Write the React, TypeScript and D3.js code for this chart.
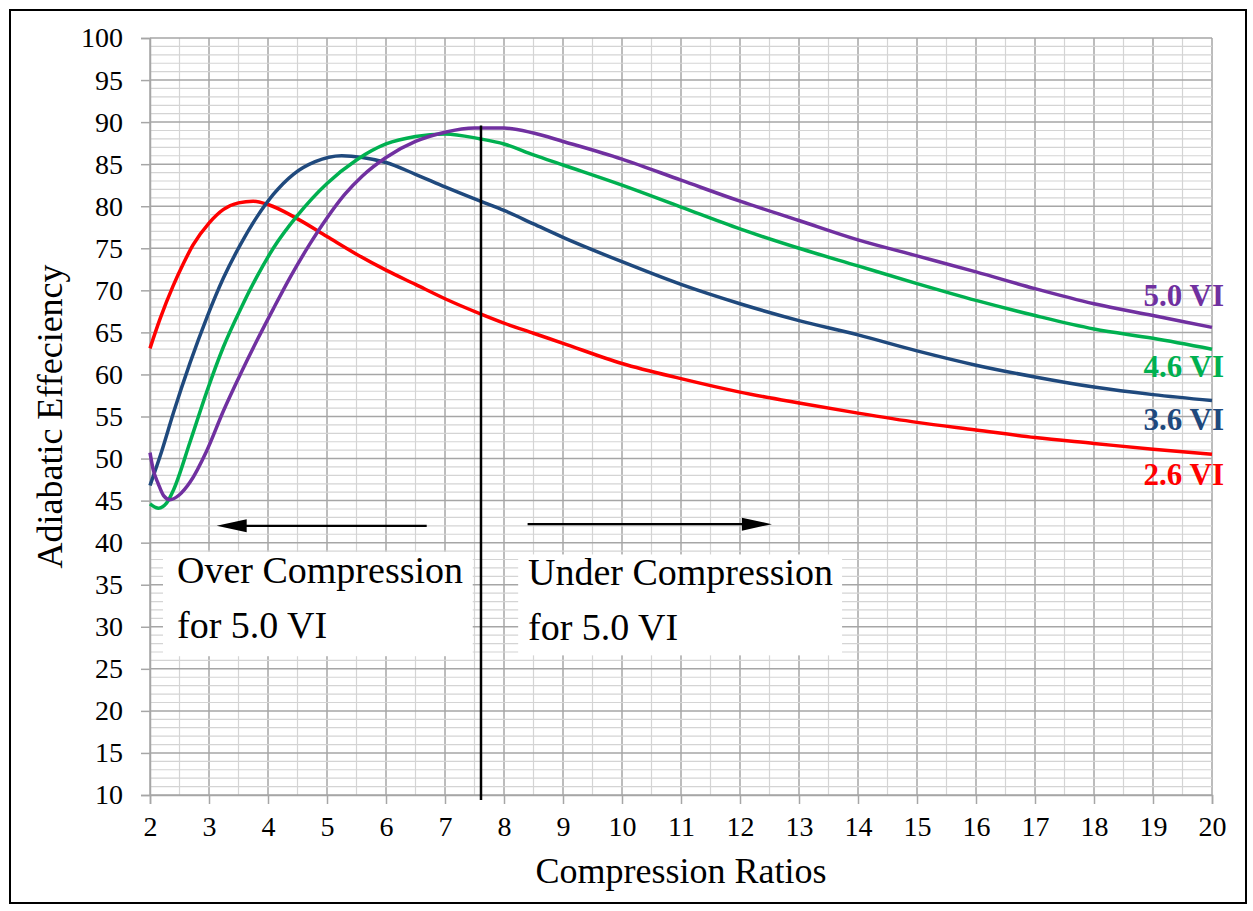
import React, { useEffect, useRef } from 'react';
import * as d3 from 'd3';

// compression ratio values, one list per curve
const redX = [2, 2.17, 2.39, 2.56, 2.73, 3, 3.24, 3.5, 3.75, 4, 4.5, 5, 5.5, 6, 6.5, 7, 7.6, 8, 8.5, 9, 10, 11, 12, 13, 14, 15, 16, 17, 18, 19, 20];
const redY = [63.1, 66.6, 70.5, 73.1, 75.4, 78.0, 79.6, 80.4, 80.6, 80.2, 78.5, 76.4, 74.3, 72.4, 70.7, 69.0, 67.2, 66.1, 64.9, 63.7, 61.3, 59.5, 57.9, 56.6, 55.4, 54.3, 53.4, 52.5, 51.8, 51.1, 50.5];

const blueX = [2, 2.2, 2.4, 2.68, 2.96, 3.24, 3.53, 3.81, 4.09, 4.43, 4.8, 5.25, 5.6, 6, 6.5, 7, 7.6, 8, 8.5, 9, 10, 11, 12, 13, 14, 15, 16, 17, 18, 19, 20];
const blueY = [46.8, 50.9, 55.5, 61.4, 66.7, 71.4, 75.4, 78.7, 81.4, 83.8, 85.3, 86.0, 85.8, 85.2, 83.8, 82.3, 80.6, 79.5, 77.9, 76.3, 73.4, 70.7, 68.4, 66.4, 64.7, 62.8, 61.1, 59.7, 58.5, 57.6, 56.9];

const greenX = [2, 2.14, 2.28, 2.4, 2.68, 2.96, 3.24, 3.53, 3.81, 4.09, 4.5, 5, 5.5, 6, 6.5, 7, 7.6, 8, 8.5, 9, 10, 11, 12, 13, 14, 15, 16, 17, 18, 19, 20];
const greenY = [44.6, 44.1, 44.7, 46.3, 52.0, 57.9, 63.2, 67.7, 71.6, 75.0, 78.9, 82.7, 85.5, 87.4, 88.3, 88.6, 88.0, 87.4, 86.1, 84.9, 82.5, 79.9, 77.3, 75.0, 72.9, 70.8, 68.8, 67.0, 65.4, 64.3, 63.0];

const purpleX = [2, 2.05, 2.14, 2.23, 2.34, 2.5, 2.68, 2.96, 3.24, 3.53, 3.81, 4.09, 4.38, 4.7, 5, 5.3, 5.6, 6, 6.5, 7, 7.5, 8, 8.5, 9, 10, 11, 12, 13, 14, 15, 16, 17, 18, 19, 20];
const purpleY = [50.7, 48.8, 47.0, 45.6, 45.1, 45.7, 47.2, 50.9, 55.6, 60.0, 64.0, 67.8, 71.6, 75.4, 78.6, 81.4, 83.6, 85.8, 87.7, 88.8, 89.3, 89.3, 88.7, 87.7, 85.6, 83.1, 80.6, 78.3, 76.0, 74.1, 72.2, 70.2, 68.4, 67.0, 65.6];

const seriesNames = ['2.6 VI', '3.6 VI', '4.6 VI', '5.0 VI'];
const seriesColors = ['#ff0000', '#1f497d', '#00b050', '#7030a0'];

const xTicks = d3.range(2, 21, 1);
const yTicks = d3.range(10, 101, 5);

const W = 1253, H = 911;

export default function App() {
  const ref = useRef<SVGSVGElement>(null);

  useEffect(() => {
    const svg = d3.select(ref.current);
    svg.selectAll('*').remove();

    const x = d3.scaleLinear().domain([2, 20]).range([150, 1212]);
    const y = d3.scaleLinear().domain([10, 100]).range([795, 38]);
    const font = '"Liberation Serif", "Times New Roman", serif';

    svg.append('rect').attr('width', W).attr('height', H).attr('fill', '#fff');
    // outer frame
    svg.append('rect')
      .attr('x', 10).attr('y', 10).attr('width', 1236).attr('height', 893)
      .attr('fill', 'none').attr('stroke', '#000').attr('stroke-width', 2);

    const grid = svg.append('g');
    // vertical grid every 0.5
    d3.range(2, 20.01, 0.5).forEach(v => {
      const major = Number.isInteger(v);
      grid.append('line')
        .attr('x1', x(v)).attr('x2', x(v)).attr('y1', y(10)).attr('y2', y(100))
        .attr('stroke', major ? '#a6a6a6' : '#d4d4d4').attr('stroke-width', major ? 1.5 : 1.2);
    });
    // horizontal grid every 1
    d3.range(10, 100.01, 1).forEach(v => {
      const major = v % 5 === 0;
      grid.append('line')
        .attr('x1', x(2)).attr('x2', x(20)).attr('y1', y(v)).attr('y2', y(v))
        .attr('stroke', major ? '#a6a6a6' : '#d4d4d4').attr('stroke-width', major ? 1.5 : 1.2);
    });

    // axes
    const yAxis = svg.append('g').attr('transform', `translate(${x(2)},0)`)
      .call(d3.axisLeft(y).tickValues(yTicks).tickSize(9).tickPadding(18).tickFormat(d3.format('d')));
    const xAxis = svg.append('g').attr('transform', `translate(0,${y(10)})`)
      .call(d3.axisBottom(x).tickValues(xTicks).tickSize(9).tickPadding(12).tickFormat(d3.format('d')));
    [xAxis, yAxis].forEach(a => {
      a.attr('font-family', font).attr('font-size', 28);
      a.select('.domain').attr('stroke', '#a6a6a6').attr('stroke-width', 1.5);
      a.selectAll('.tick line').attr('stroke', '#a6a6a6').attr('stroke-width', 1.5);
      a.selectAll('text').attr('font-family', font).attr('font-size', 28).attr('fill', '#000');
    });

    // annotation boxes
    const boxes = [
      { x0: 2.22, x1: 7.47, y0: 38.9, y1: 26.5, lines: ['Over Compression', 'for 5.0 VI'], tx: 177 },
      { x0: 8.24, x1: 13.73, y0: 38.6, y1: 26.6, lines: ['Under Compression', 'for 5.0 VI'], tx: 528 },
    ];
    boxes.forEach(b => {
      svg.append('rect')
        .attr('x', x(b.x0)).attr('y', y(b.y0))
        .attr('width', x(b.x1) - x(b.x0)).attr('height', y(b.y1) - y(b.y0))
        .attr('fill', '#fff');
      b.lines.forEach((t, i) => {
        svg.append('text')
          .attr('x', b.tx).attr('y', y(b.y0) + 31 + i * 55)
          .attr('font-family', font).attr('font-size', 38).attr('fill', '#000')
          .text(t);
      });
    });

    // curves
    const curves = [
      redX.map((v, i) => [v, redY[i]]),
      blueX.map((v, i) => [v, blueY[i]]),
      greenX.map((v, i) => [v, greenY[i]]),
      purpleX.map((v, i) => [v, purpleY[i]]),
    ] as [number, number][][];

    const line = d3.line<[number, number]>()
      .x(d => x(d[0])).y(d => y(d[1]))
      .curve(d3.curveMonotoneX);

    // label baselines sit below the line end, except 5.0 VI above it
    const labelShift = [31, 29, 28, -21];

    curves.forEach((pts, i) => {
      svg.append('path').datum(pts)
        .attr('d', line)
        .attr('fill', 'none')
        .attr('stroke', seriesColors[i])
        .attr('stroke-width', 3.5)
        .attr('stroke-linejoin', 'round');
      const last = pts[pts.length - 1];
      svg.append('text')
        .attr('x', x(20) + 12).attr('y', y(last[1]) + labelShift[i])
        .attr('text-anchor', 'end')
        .attr('font-family', font).attr('font-size', 31).attr('font-weight', 'bold')
        .attr('fill', seriesColors[i])
        .text(seriesNames[i]);
    });

    // vertical divider at the 5.0 VI peak
    svg.append('line')
      .attr('x1', x(7.61)).attr('x2', x(7.61))
      .attr('y1', y(89.6)).attr('y2', y(10) + 5)
      .attr('stroke', '#000').attr('stroke-width', 2.5);

    // arrows
    const arrow = (from: number, to: number, at: number) => {
      const dir = Math.sign(to - from);
      const tip = x(to), yy = y(at);
      svg.append('line')
        .attr('x1', x(from)).attr('x2', tip - dir * 20).attr('y1', yy).attr('y2', yy)
        .attr('stroke', '#000').attr('stroke-width', 2.2);
      svg.append('path')
        .attr('d', `M${tip},${yy} L${tip - dir * 30},${yy - 6.5} L${tip - dir * 30},${yy + 6.5} Z`)
        .attr('fill', '#000');
    };
    arrow(6.69, 3.13, 42.0);
    arrow(8.4, 12.54, 42.2);

    // axis titles
    svg.append('text')
      .attr('x', x(11)).attr('y', 883)
      .attr('text-anchor', 'middle')
      .attr('font-family', font).attr('font-size', 36).attr('fill', '#000')
      .text('Compression Ratios');
    svg.append('text')
      .attr('transform', `translate(62,${y(55)}) rotate(-90)`)
      .attr('text-anchor', 'middle')
      .attr('font-family', font).attr('font-size', 36).attr('fill', '#000')
      .text('Adiabatic Effeciency');
  }, []);

  return (
    <svg ref={ref} width={W} height={H}
      style={{ position: 'absolute', left: 0, top: 0, display: 'block' }} />
  );
}
